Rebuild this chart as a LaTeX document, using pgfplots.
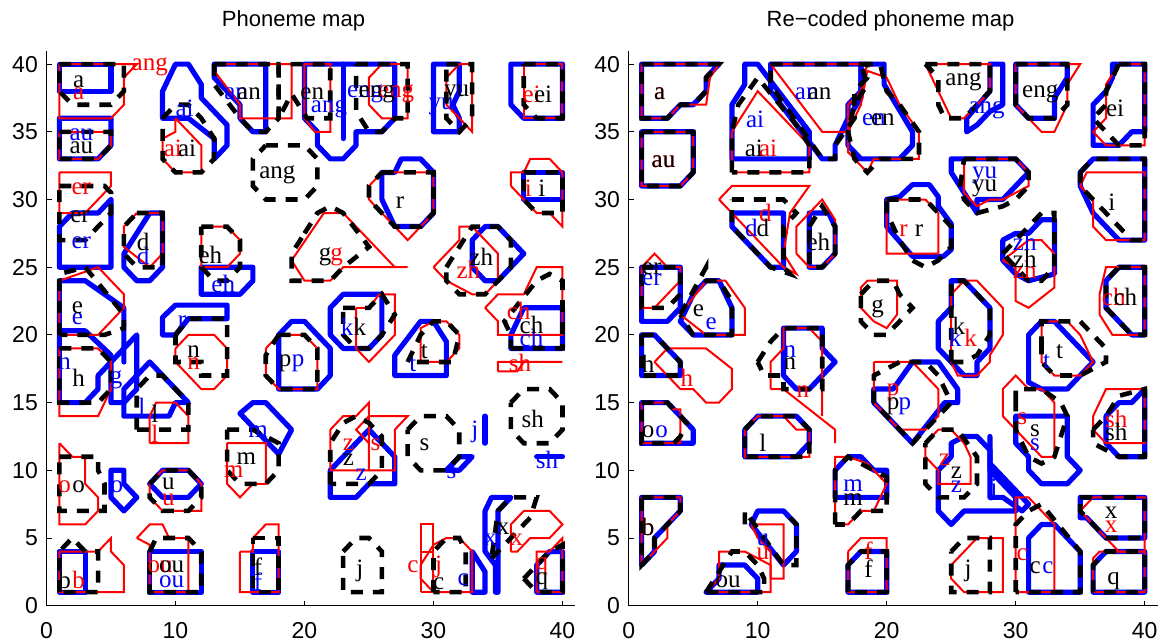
\documentclass[border=0pt]{standalone}
\usepackage{fontspec}
\setmainfont{Liberation Sans}
\newfontfamily\lser{Liberation Serif}
\usepackage{pgfplots}
\pgfplotsset{compat=1.18}
\pgfplotsset{
  Bst/.style={blue, line width=2.6pt, line join=round, line cap=round, mark=none},
  Rst/.style={red, line width=1pt, line join=miter, mark=none},
  Kst/.style={black, line width=2.3pt, dash pattern=on 6pt off 5pt, mark=none},
  pm/.style={width=264.45pt, height=277.57pt, scale only axis,
    xmin=0, xmax=41, ymin=0, ymax=41,
    axis x line=bottom, axis y line=left, axis line style={-, line width=0.6pt},
    tick align=inside, major tick length=2.5pt, tick style={black, line width=0.5pt},
    xtick={0,10,...,40}, ytick={0,5,...,40},
    ticklabel style={font=\fontsize{11.5}{12}\selectfont},
    xticklabel style={yshift=-5pt}, yticklabel style={xshift=-0.8pt},
    /pgf/number format/assume math mode=true,
    clip=false, anchor=south west}
}
\newcommand{\B}[1]{\addplot[Bst] coordinates {#1};}
\newcommand{\R}[1]{\addplot[Rst] coordinates {#1};}
\newcommand{\K}[1]{\addplot[Kst] coordinates {#1};}
\newcommand{\T}[4]{\node[text=#1, font=\lser\fontsize{12.5}{13}\selectfont, inner sep=0pt] at (axis cs:#2,#3) {#4};}
\begin{document}
\begin{tikzpicture}
\useasboundingbox (0,0) rectangle (581pt,321.5pt);
\node[font=\fontsize{11}{13}\selectfont, anchor=base] at (146.75pt,308pt) {Phoneme map};
\node[font=\fontsize{11}{13}\selectfont, anchor=base] at (445.25pt,308pt) {Re−coded phoneme map};
% ================= LEFT =================
\begin{axis}[pm, at={(23.25pt,18.65pt)}]
\B{(1,38) (5,38) (5,40) (1,40) (1,38)}
\B{(1,36) (5,36) (5,34) (4,33) (1,33) (1,36)}
\B{(5,30) (5,25) (1,25) (1,28) (2,29) (4,29) (5,30)}
\B{(6,26) (8,29) (9,29) (9,25) (8,24) (7,24) (6,25) (6,26)}
\B{(9,36) (9,38) (10,40) (11,40) (12,38.5) (12,37.5) (14,35.5) (14,34) (13,33) (13,34.5) (11,36) (9,36)}
\B{(13,40) (17,40) (17,35) (16,35) (15,36) (15,37) (13,39) (13,40)}
\B{(20,40) (27,40) (27,36) (26,35) (24,35) (24,34) (23,33) (22,33) (21,34) (21,35) (20,36) (20,40)}
\B{(23,40) (23,34.5)}
\B{(30,40) (32,40) (32,38) (31.5,37) (32,36) (32,35) (30,35) (30,40)}
\B{(36,40) (40,40) (40,36) (37,36) (36,37) (36,40)}
\B{(37,32) (40,32) (40,30) (37,30) (37,32)}
\B{(26,30) (26,32) (27,32) (27.5,33) (29,33) (30,32) (30,29) (29,28) (27,28) (26,30)}
\B{(12,25) (16,25) (16,24) (15,23) (12,23) (12,25)}
\B{(1,20.3) (1,24) (3,24) (6,22) (6,18)}
\B{(1,20.3) (3,20.3) (5,18.5) (5,18) (4,17) (4,16) (3,15) (1,15) (1,20.3)}
\B{(9,20) (9,21.3) (10,22.2) (14,22.2) (14,21.2) (11,21.2) (10,20) (9,20)}
\B{(22,22) (23,23) (26,23) (26,20) (25,19) (23,19) (22,20) (22,22)}
\B{(33,27) (34,28) (35,28) (37,26) (35,24) (34,24) (33,25) (33,27)}
\B{(36.5,21) (37,22) (40,22) (40,19) (36,19) (36,20) (36.5,21)}
\B{(5,15) (5,18) (7,20) (7,16) (6,15) (5,15)}
\B{(6,14) (6,16) (8,18) (11,15) (10,15) (9.5,14) (6,14)}
\B{(18,16) (18,20) (19,21) (20,21) (22,19) (22,17) (21,16) (18,16)}
\B{(27,17) (27,18.5) (29,21) (30,21) (31,19.5) (31,17) (27,17)}
\B{(38,11) (40,11)}
\B{(31,10) (32,11) (33,11) (32,10) (31,10)}
\B{(34,14) (34,12)}
\B{(22,8) (24,8) (25,9) (27,9) (27,11) (25,13) (24,12) (22,10) (22,8)}
\B{(15,14.2) (16,15) (17,15) (19,13) (18,11.2) (15,14.2)}
\B{(5,10) (6,10) (6,9) (7,8) (6,7) (5,8) (5,10)}
\B{(8,9) (9,10) (11,10) (12,9) (11,8) (9,8) (8,9)}
\B{(1,4) (3,4) (3,1) (1,1) (1,4)}
\B{(8,4) (12,4) (12,1) (8,1) (8,4)}
\B{(16,4) (18,4) (18,1) (16,1) (16,4)}
\B{(33,1) (33,4) (34,2.5) (34,1) (33,1)}
\B{(34,4) (34,7) (34.5,8) (36,8) (35,7) (35,1) (34.8,1) (34.8,3) (34,4)}
\B{(38,3) (39,4) (40,4) (40,1) (38,1) (38,3)}
% red
\R{(1,40) (7,40) (6,39) (6,37) (5,36) (1,36) (1,40)}
\R{(1,35) (5,35) (5,34) (4,33) (1,33) (1,35)}
\R{(1,32) (5,32) (5,31) (3,29) (1,29) (1,32)}
\R{(7,29) (9,29) (9,26) (8,25) (6,26.5) (6,28) (7,29)}
\R{(10,36) (11,35) (12,34) (12,32) (10,32) (9,33) (9,34.5) (10,35) (10,36)}
\R{(13,40) (19,40) (19,36) (15,36) (15,37) (13,39.5) (13,40)}
\R{(20,40) (22,40) (22,35) (20.8,35) (20,36) (20,40)}
\R{(26,40) (28,40) (28,36) (26,36) (25,37) (25,39) (26,40)}
\R{(31,39) (32,40) (33,40) (33,35) (31,37) (31,39)}
\R{(37,40) (40,40) (40,36) (37,36) (37,40)}
\R{(36,31) (36,32) (37,32) (37.5,33) (39,33) (40,32) (40,28) (39,29) (38,29) (36,31)}
\R{(26,32) (30,32) (30,29) (28,27) (25,30) (25,31) (26,32)}
\R{(19,25.5) (21.5,29) (23,29) (27,25) (28,25) (23,25) (22,24) (20,24) (19,25.5)}
\R{(12,28) (14,28) (15,27) (15,26) (14,25) (12,25) (12,28)}
\R{(1,20) (1,24) (4,25) (6,23) (6,22) (4,20) (1,20)}
\R{(10,19) (11,20) (13,20) (14,19) (14,17) (13,16) (12,16) (10,18) (10,19)}
\R{(24,22) (25,22) (25.8,23) (27,23) (27,20) (25,18) (24,19) (24,22)}
\R{(34,22) (35,23) (37,23) (38,25) (40,25) (40,20) (35,20) (35,21) (34,22)}
\R{(1,19) (4,19) (5,18) (5,16) (4,14) (1,14) (1,19)}
\R{(8,12) (8,14) (8.5,15) (10,15) (11,14) (11,12) (8,12)}
\R{(17,19) (18,20) (20,20) (21,19) (21,16) (18,16) (17,17) (17,19)}
\R{(29,18) (29,20.5) (30,21) (31,21) (32,20) (32,19) (31,18) (29,18)}
\R{(35,17.3) (35,18) (40,18) (37,18) (36.5,17.3) (35,17.3)}
\R{(22,10) (22,13) (23,14) (24,14) (25,15) (25,10) (22,10)}
\R{(25,10) (27,10) (27,13) (28,14) (25,14) (24,13) (25,12)}
\R{(14,12) (17,12) (17,9) (16,9) (15,8) (14,9) (14,12)}
\R{(1,12) (2,11) (3,11) (3,9) (4,8) (4,7) (3,6) (1,6) (1,12)}
\R{(8,9) (9,10) (11,10) (12,9) (12,7) (9,7) (8,8) (8,9)}
\R{(1,4) (4,4) (5,5) (5,4) (6,3) (6,1) (1,1) (1,4)}
\R{(7,5) (8,6) (9,6) (9.5,5) (11,5) (11,1) (8,1) (8,4.5) (7,5)}
\R{(15,4) (16,4) (16,5) (17,6) (18,6) (18,1) (15,1) (15,4)}
\R{(29,1) (29,4) (30,4) (29,4) (29,6) (30,6) (30,1) (29,1)}
\R{(29,3) (30,4.5) (31,5) (32,5) (33,4) (33,1) (30,1) (29,2) (29,3)}
\R{(36,4) (36.5,4) (37.5,5) (39,5) (40,6) (39,7) (37,7) (36,6) (36,4)}
\R{(38,1) (38,4) (39,4) (40,5) (40,1) (38,1)}
\R{(30,25) (32,27) (32,28) (33,28) (35,26) (35,24) (34,23) (33,23) (31,24) (30,25)}
% black
\K{(1,40) (6,40) (6,38) (5,37) (2,37) (1,38) (1,40)}
\K{(1,35) (5,35) (5,34) (4,33) (1,33) (1,35)}
\K{(1,31) (4.5,31) (5,30.5) (5,29) (3,27) (1,27) (1,31)}
\K{(7,29) (9,29) (9,25) (7,25) (6,26) (6,28) (7,29)}
\K{(9,36) (10,37) (11,37) (12,36) (13,34.5) (13,33) (12,32) (10,32) (9,33) (9,36)}
\K{(13,40) (18,40) (18,36) (17,35) (16,35) (15,36) (13,38.5) (13,40)}
\K{(18,36) (18,40) (22,40) (22,36) (20.2,36) (19,37.8) (18,36)}
\K{(24,40) (28,40) (28,36) (27,36) (26,35) (25,35) (24,36.5) (24,40)}
\K{(31,40) (33,40) (33,36) (32,35) (31,36) (31,40)}
\K{(37,40) (40,40) (40,36) (38,36) (37,37) (37,40)}
\K{(37,32) (40,32) (40,29) (38,29) (37,30) (37,32)}
\K{(17,34) (20,34) (21,33) (21,31) (20,30) (17,30) (16,31) (16,33) (17,34)}
\K{(26,32) (30,32) (30,29) (29,28) (27,28) (25,30) (25,31) (26,32)}
\K{(20,27.5) (21,29) (22,29.5) (23,29) (25,26.5) (23,25) (22,24) (19,24) (19,26) (20,27.5)}
\K{(12,28) (14,28) (15,27) (15,25) (14,24) (13,24) (12,25) (12,28)}
\K{(1,20) (1,24.5) (3,25) (6,21.5) (6,20.5) (4.5,20) (1,20)}
\K{(10,20) (11,21.2) (14,21.2) (14,17) (12,17) (12,18) (10,18) (10,20)}
\K{(23,22) (25,22) (26,23) (27,21.5) (26,20) (25,19) (24,19) (23,20) (23,22)}
\K{(36,19) (40,19) (40,24) (39,24.5) (38,24) (35.5,21) (36,20) (36,19)}
\K{(31,25) (33,28) (35,28) (36,27) (36,25) (34,23) (32,23) (31,24) (31,25)}
\K{(1,19) (4,19) (5,18) (5,16) (4,15) (1,15) (1,19)}
\K{(7,13) (7,16) (8,17) (9,17) (11,15) (11,13) (7,13)}
\K{(18,20) (20,20) (21,19) (21,16) (18,16) (17,17) (17,18.5) (18,20)}
\K{(28,18) (29,20) (30,21) (31,21) (32,20) (31.5,18) (28,18)}
\K{(36,15) (37,16) (39,16) (40,15) (40,13) (39,12) (37,12) (36,13) (36,15)}
\K{(28,13) (29,14) (31,14) (32,13) (32,11) (31,10) (29,10) (28,11) (28,13)}
\K{(22,9) (22,12) (23,13.5) (24,14) (25,13.5) (26,12.5) (26,10) (25,9) (22,9)}
\K{(14,13) (16,13) (18,12) (18,10) (17,9) (15,9) (14,10) (14,13)}
\K{(1,11) (4,11) (4,10) (4.5,9) (4.5,7) (1,7) (1,11)}
\K{(8,9) (9,10) (11,10) (12,9) (12,8) (11,7) (9,7) (8,8) (8,9)}
\K{(1,1) (1,4) (2,5) (3,4) (4,4) (4,1) (1,1)}
\K{(8,4) (8.5,5) (11,5) (12,4) (12,1) (8,1) (8,4)}
\K{(16,5) (18,5) (18,1) (16,1) (16,5)}
\K{(23,4) (24,5) (25,5) (26,4) (26,1) (23,1) (23,4)}
\K{(30,1) (30,4) (31,5) (32,5) (32.5,4) (32.5,1) (30,1)}
\K{(34.5,3.5) (37.5,6.5) (38,8) (36,8) (35,7) (34.5,3.5)}
\K{(37,2) (38,3) (39,4) (40,4.5) (40,1) (38,1) (37,2)}
% labels red
\T{red}{2.5}{37.8}{a}
\T{red}{8.0}{39.8}{ang}
\T{red}{2.7}{30.8}{er}
\T{red}{9.8}{33.8}{ai}
\T{red}{27.1}{37.8}{eng}
\T{red}{37.6}{37.8}{ei}
\T{red}{37.35}{30.8}{i}
\T{red}{22.5}{25.8}{g}
\T{red}{32.7}{24.8}{zh}
\T{red}{36.6}{21.8}{ch}
\T{red}{8.4}{12.7}{l}
\T{red}{11.4}{17.9}{n}
\T{red}{36.7}{17.9}{sh}
\T{red}{14.5}{9.9}{m}
\T{red}{1.4}{8.8}{o}
\T{red}{9.45}{7.8}{u}
\T{red}{2.5}{1.9}{b}
\T{red}{8.8}{2.9}{ou}
\T{red}{23.4}{11.9}{z}
\T{red}{25.5}{11.9}{s}
\T{red}{28.4}{2.9}{c}
\T{red}{30.4}{2.9}{j}
\T{red}{36.45}{4.85}{x}
\T{red}{38.4}{2.9}{q}
% labels blue
\T{blue}{2.7}{34.8}{au}
\T{blue}{2.7}{26.8}{er}
\T{blue}{7.5}{25.8}{d}
\T{blue}{10.7}{36.7}{ai}
\T{blue}{14.7}{37.8}{an}
\T{blue}{21.9}{36.7}{ang}
\T{blue}{24.7}{37.8}{eng}
\T{blue}{30.6}{36.9}{yu}
\T{blue}{13.7}{23.8}{eh}
\T{blue}{2.4}{21.2}{e}
\T{blue}{10.5}{21.0}{r}
\T{blue}{23.3}{20.6}{k}
\T{blue}{1.4}{17.9}{n}
\T{blue}{5.4}{16.7}{g}
\T{blue}{7.4}{14.7}{l}
\T{blue}{19.5}{17.9}{p}
\T{blue}{28.4}{17.8}{t}
\T{blue}{37.6}{19.8}{ch}
\T{blue}{16.4}{12.85}{m}
\T{blue}{5.45}{8.8}{o}
\T{blue}{9.7}{1.8}{ou}
\T{blue}{16.4}{1.8}{f}
\T{blue}{38.8}{10.8}{sh}
\T{blue}{31.4}{9.8}{s}
\T{blue}{33.2}{12.85}{j}
\T{blue}{24.4}{9.65}{z}
\T{blue}{32.3}{1.9}{c}
\T{blue}{34.4}{4.85}{x}
% labels black
\T{black}{2.5}{38.7}{a}
\T{black}{2.7}{33.8}{au}
\T{black}{2.6}{28.7}{er}
\T{black}{7.5}{26.9}{d}
\T{black}{10.9}{33.8}{ai}
\T{black}{15.7}{37.8}{an}
\T{black}{20.6}{37.8}{en}
\T{black}{25.6}{37.8}{eng}
\T{black}{31.8}{37.8}{yu}
\T{black}{38.5}{37.8}{ei}
\T{black}{38.4}{30.8}{i}
\T{black}{17.9}{31.8}{ang}
\T{black}{27.4}{29.8}{r}
\T{black}{21.6}{25.8}{g}
\T{black}{12.7}{25.9}{eh}
\T{black}{33.7}{25.8}{zh}
\T{black}{37.6}{20.7}{ch}
\T{black}{2.4}{22.0}{e}
\T{black}{24.3}{20.6}{k}
\T{black}{2.5}{16.8}{h}
\T{black}{8.4}{14.2}{l}
\T{black}{11.4}{18.8}{n}
\T{black}{18.5}{17.9}{p}
\T{black}{29.3}{18.8}{t}
\T{black}{37.7}{13.8}{sh}
\T{black}{29.3}{11.9}{s}
\T{black}{23.4}{10.8}{z}
\T{black}{15.5}{10.9}{m}
\T{black}{2.5}{8.8}{o}
\T{black}{9.45}{9.0}{u}
\T{black}{1.4}{1.9}{b}
\T{black}{9.7}{2.9}{ou}
\T{black}{16.4}{2.9}{f}
\T{black}{24.3}{2.6}{j}
\T{black}{30.4}{1.65}{c}
\T{black}{35.4}{5.7}{x}
\T{black}{38.4}{1.8}{q}
\end{axis}
% ================= RIGHT =================
\begin{axis}[pm, at={(314.35pt,18.65pt)}]
\B{(1,40) (7,40) (6,39) (6,38) (5,37) (4,37) (3,36) (1,36) (1,40)}
\B{(1,35) (5,35) (5,32) (4,31) (1,31) (1,35)}
\B{(8,33) (8,37) (9,38.5) (9,40) (10,40) (14,35) (14,33) (8,33)}
\B{(11,40) (18,40) (18,38) (17,37) (17,36) (16,34) (16,33) (15,33) (11,38) (11,40)}
\B{(18,40) (19.8,40) (19.8,38.5) (22,35) (22,34) (21,33) (18,33) (17,34) (17,36) (18,37.5) (18,40)}
\B{(28,40) (29,40) (29,37) (28,36.5) (27,35.5) (26.2,35) (26.2,36) (28,38) (28,40)}
\B{(30,40) (34,40) (34,39) (33,37.5) (33,36) (31,36) (30,37) (30,40)}
\B{(37.5,40) (40,40) (40,35) (39,35) (38,34) (36,34) (36,37) (37,38) (37.5,39) (37.5,40)}
\B{(25,33) (30,33) (31,32) (29,30) (27,30) (27,29) (26,30.5) (25,32) (25,33)}
\B{(35,31) (35,32) (36,33) (40,33) (40,27) (38,27) (36,29) (35,31)}
\B{(20,28) (20,30) (21,30.2) (22,31.1) (23.3,31.1) (24,30.2) (24,29.5) (25,28.2) (25,26.3) (24.4,25.8) (22,25.8) (20,28)}
\B{(29,25.5) (29,27) (30,27.5) (31,27.5) (32,28.5) (33,28.5) (33,24.5) (31,24) (30,24.5) (29,25.5)}
\B{(37,24) (38,25) (40,25) (40,20) (39,20) (37,22) (37,24)}
\B{(24,19) (24,21) (25,22) (25,24) (26,24) (28,22) (28,19) (27,18) (27,17) (26,17) (25,18) (24,19)}
\B{(31,16.5) (31,20) (32,21) (33,21) (36,18) (35,17) (34,16) (32,16) (31,16.5)}
\B{(19,16) (20.5,16) (22,18) (24,18) (25.5,16) (25.5,15) (24.5,15) (22,12) (20,14) (19,15) (19,16)}
\B{(24,7) (24,10) (25,11) (25,12) (26,12.5) (27,12.5) (28,11.5) (28,10) (30,8) (30,7) (26,7) (25,6) (24,7)}
\B{(28,12.5) (28,10.5) (31,7.5) (30.5,7) (29,8) (28,8) (28,10.5)}
\B{(30,12) (30,14) (34,14) (34,11) (35,10) (34,9) (32,9) (31,10) (31,11) (30,12)}
\B{(37,14) (38,15) (39,15) (40,16) (40,11) (38,11) (37,12) (37,14)}
\B{(35,8) (40,8) (40,5) (37,5) (35.5,6.5) (35,6.5) (35,8)}
\B{(36,1) (36,3) (37,4) (40,4) (40,1) (36,1)}
\B{(31,1) (31,5) (32,6) (33,6) (35,4) (35,1) (31,1)}
\B{(17,1) (17,3) (18,4) (20,4) (20,1) (17,1)}
\B{(1,20) (2,20) (4,18) (4,17) (1,17) (1,20)}
\B{(1,15) (3,15) (5,13) (5,12) (1,12) (1,15)}
\B{(9,13) (10,14) (13,14) (14,13) (14,12) (13,11) (9,11) (9,13)}
\B{(12,17) (12,20.5) (15,20.5) (15,19) (16,18) (15,17) (14,16) (13,16) (12,17)}
\B{(16,9) (16,10) (17,11) (18,11) (19,10) (20,10) (20,8) (16,8) (16,9)}
\B{(1,8) (4,8) (4,7) (2,5) (2,4) (1,3) (1,8)}
\B{(9.5,6) (10,7) (12,7) (13,6) (13,4) (12,3) (9.5,6)}
\B{(6,1) (7,2) (7,3) (9,3) (10,2) (10,1) (6,1)}
\B{(4,21) (5,23) (6,24) (7,24) (8,22) (8,20) (5,20) (4,21)}
\B{(1,25) (4,25) (4,22) (3,21) (1,21) (1,25)}
\B{(8,29) (12,29) (12,25) (11,25) (8,28) (8,29)}
\B{(14,29) (15.5,29) (16,28) (16,26) (15,25) (14,25) (14,29)}
% red
\R{(1,40) (7,40) (6.3,39) (6,37) (4,37) (3,36) (1,36) (1,40)}
\R{(1,35) (5,35) (5,32) (4,31) (1,31) (1,35)}
\R{(8,32) (8,35) (10,38) (13,35) (14,34) (14,32) (8,32)}
\R{(11,40) (18.5,40) (18,38) (17,37) (17,35) (15,35) (11,40)}
\R{(18.5,39.5) (20,39) (21,37) (22.5,35) (22.5,33) (19,33) (18.5,32) (17,33.5) (17,35) (18,37) (18.5,39.5)}
\R{(23,40) (28,40) (28,38) (26,36) (25,36) (24.5,37) (24,38) (23,40)}
\R{(30,40) (35,40) (34,38.5) (34,37) (33,35) (32,35) (31,36) (30,37) (30,40)}
\R{(38,40) (40,40) (40,34) (37,34) (36,35) (37,36) (37,38.5) (38,40)}
\R{(26,33) (30,33) (31,32) (31,31) (29,30) (28,30) (27,29.5) (26,30.5) (26,33)}
\R{(35,31) (35.5,32) (40,32) (40,27) (37,27) (36,28) (36,30) (35,31)}
\R{(20,30) (23,30) (24,29) (24,26) (20,26) (20,30)}
\R{(29,25.5) (31,27) (32,27) (33,26) (33,23.5) (31,22) (30,22.5) (30,25) (29,25.5)}
\R{(36.5,23) (37,25) (40,25) (40,20) (37.5,20) (36.5,21.5) (36.5,23)}
\R{(18.5,24) (20.8,24) (20.8,21.5) (20,20.5) (19,21) (18,22) (18,23.5) (18.5,24)}
\R{(25,23) (26,24) (27,24) (29,22) (29,20) (28,18.5) (28,18) (27,17) (25.5,17) (25,18) (25,23)}
\R{(32,19) (32,21) (34,21) (35,20) (36,18) (35,17) (33,17) (32,18) (32,19)}
\R{(19,18) (22,18) (24,16) (24,14) (23,13) (21,13) (19,15) (19,18)}
\R{(23,11) (23,12) (24,13) (25,13) (26,12) (26.5,11) (26.5,9) (24,9) (24,10) (23,11)}
\R{(29,14) (29,16) (30,17) (31,16) (32,16) (33,15) (33,11) (32,11) (30,13) (29,14)}
\R{(36,14) (37,16) (40,16) (40,12) (37,12) (36,13) (36,14)}
\R{(35,7) (36,8) (40,8) (40,4) (38,4) (37,5) (35,7)}
\R{(36,1) (36,3.5) (36.5,4) (40,4) (40,1) (36,1)}
\R{(30,1) (30,8) (31,8) (32,7) (33,6) (33,1) (30,1)}
\R{(25,3) (27,5) (29,5) (29,1) (26,1) (25,2) (25,3)}
\R{(17,4) (18,5) (20,5) (20,1) (17,1) (17,4)}
\R{(2,18) (3,19) (6,19) (8,17.5) (8,16) (7,15) (6,15) (5,16) (4,16) (2,18)}
\R{(1,15) (3,15) (3.5,14.5) (4,14.5) (4,12) (1,12) (1,15)}
\R{(9,13) (10,14) (12,14) (13,13) (14,13) (14,11) (9,11) (9,13)}
\R{(11,16) (11,18) (12,19) (12,20.5) (14,20.5) (15,19.5) (15,14)}
\R{(11,16) (12,16) (16,13) (16,12)}
\R{(16,6) (16,11) (17,11) (18.5,10.5) (20,9) (19,7) (18,7) (17,6) (16,6)}
\R{(1,8) (4,8) (4,7) (3,6) (3,5) (2,4) (1,3) (1,8)}
\R{(9.5,6) (12,6) (12,2) (11,2) (11,4) (10,5) (9.5,6)}
\R{(6,1) (7,2) (7,4) (9,4) (11,3) (11,1) (6,1)}
\R{(4,21.5) (6,24) (7.5,24) (9,22) (9,20) (6,20) (4,21.5)}
\R{(1,25) (2,26) (3,25) (4,25) (4,24) (2,22) (1,22) (1,25)}
\R{(7,30) (8,31) (14,31) (12.5,29) (12,26) (13,24.5) (12,25) (11,26) (9,28) (8,29) (7,30)}
\R{(13,26) (13,28) (14,29) (15,30) (16,28.5) (16,26) (15,25) (14,25) (13,26)}
% black
\K{(1,40) (7,40) (6,39) (6,38) (5,37) (4,37) (3,36) (1,36) (1,40)}
\K{(1,35) (5,35) (5,32) (4,31) (1,31) (1,35)}
\K{(8,32) (8,35) (8.5,37) (10,39) (13,35.5) (14,34) (14,32) (8,32)}
\K{(11,40) (18.5,40) (18.5,39) (17.5,38) (17.5,36) (16,34) (16,33) (15,33) (11,38.5) (11,40)}
\K{(18,40) (19.5,40) (20,38) (21,37) (22.5,35) (22.5,33) (19.5,33) (18.5,32) (17.5,33) (17,35) (17.5,37) (18.5,38.5) (18,40)}
\K{(23,40) (28,40) (28,38) (26.5,36.5) (26,36) (24.5,36) (24,37) (24,39) (23,40)}
\K{(30,40) (34,40) (34,37) (33,36) (31,36) (30,37) (30,40)}
\K{(38,40) (40,40) (40,34) (38,34) (37,35) (36,36) (37,37) (37,38) (38,40)}
\K{(26,33) (30,33) (31,32) (31,31) (30,30) (29,29.5) (27,29) (26,30) (25.7,31) (26,33)}
\K{(35,32) (36,33) (40,33) (40,27) (39,27) (37,29) (35,31) (35,32)}
\K{(20,30) (23,30) (24,29) (25,28) (25,26.5) (24,25.5) (23,25) (22,25.5) (21,27) (20,29) (20,30)}
\K{(29,26) (31,28) (32,29) (33,29) (33,25) (32,24) (31,24) (30,25) (29,26)}
\K{(38,25) (40,25) (40,20) (39,20) (37,22) (37,24) (38,25)}
\K{(18,23) (19,24) (20.5,24) (21,23) (22,22) (21,21) (20,20) (19,20) (18,21) (18,23)}
\K{(25,18) (25,24) (26,24) (28,22) (28,20) (27,18.5) (26,18) (25,18)}
\K{(32,19) (32,21) (35,21) (36,20) (37,19) (37,18) (35,17) (33,17) (32,18) (32,19)}
\K{(19,15) (19,17) (20,17.5) (21,18) (23,18) (24,17) (25,15) (24,14) (22,12) (21,13) (19,15)}
\K{(23,12) (24,13) (25.5,13) (27,11) (27,9) (26,8) (24,8) (23,9) (23,12)}
\K{(30,15) (30,16) (32,16) (33.5,15) (34,14) (33,11) (32,10.5) (31,11) (30,13) (30,15)}
\K{(36,13) (37,14) (38,15.5) (40,16) (40,11) (38,11) (36,12) (36,13)}
\K{(35,8) (40,8) (40,5) (37,5) (35,7) (35,8)}
\K{(36,1) (36,3) (37,4) (40,4) (40,1) (36,1)}
\K{(30,1) (30,6) (31,7) (32,7.5) (35,4) (35,1) (30,1)}
\K{(25,4) (26,5) (28,5) (28,1) (25,1) (25,4)}
\K{(17,1) (17,3) (18,4) (20,4) (20,1) (17,1)}
\K{(1,20) (2,20) (4,18) (4,17) (1,17) (1,20)}
\K{(1,15) (3,15) (4.5,13.5) (4,12.5) (3.5,12) (1,12) (1,15)}
\K{(9,13) (10,14) (13,14) (14,13) (14,11) (9,11) (9,13)}
\K{(10,18) (11,19.5) (12,20.5) (15,20.5) (15,16) (12,16) (12,17) (10.5,17) (10,18)}
\K{(16,6) (16,10) (17,11) (18,10.5) (19,10) (20,9.5) (20,7) (18,7) (17,6) (16,6)}
\K{(1,8) (4,8) (4,7) (2,5) (2,4) (1,3) (1,8)}
\K{(9,6) (9,7) (12,3) (13,3) (13,6) (12.5,6.5)}
\K{(6,1) (8,4) (9,4) (10,3) (10.5,2) (10.5,1) (6,1)}
\K{(4,21.5) (6,25) (6,24) (7,24) (8,22.5) (8,20) (5,20) (4,21.5)}
\K{(1,25) (4,25) (4,23) (3,22) (1,22) (1,25)}
\K{(8,30) (12,30) (13,29) (12,28) (12,25) (12.5,24.5) (11,25) (10,26) (8,28) (8,30)}
\K{(14,28) (15,29.5) (16,28) (16,26) (15,25) (14,25) (14,28)}
% labels red
\T{red}{2.4}{37.8}{a}
\T{red}{2.7}{32.8}{au}
\T{red}{10.8}{33.8}{ai}
\T{red}{10.6}{29.0}{d}
\T{red}{21.3}{27.7}{r}
\T{red}{30.7}{24.8}{zh}
\T{red}{37.6}{22.8}{ch}
\T{red}{26.5}{19.8}{k}
\T{red}{4.5}{16.8}{h}
\T{red}{13.5}{15.8}{n}
\T{red}{20.5}{15.8}{p}
\T{red}{30.5}{13.8}{s}
\T{red}{37.8}{13.8}{sh}
\T{red}{24.5}{10.8}{z}
\T{red}{37.4}{5.8}{x}
\T{red}{1.5}{5.8}{b}
\T{red}{10.4}{3.85}{u}
\T{red}{30.5}{3.75}{c}
\T{red}{18.6}{4.05}{f}
% labels blue
\T{blue}{9.8}{35.9}{ai}
\T{blue}{13.8}{37.8}{an}
\T{blue}{19.0}{35.9}{en}
\T{blue}{27.75}{36.6}{ang}
\T{blue}{27.6}{31.8}{yu}
\T{blue}{9.5}{27.9}{d}
\T{blue}{30.7}{26.9}{zh}
\T{blue}{1.8}{24.05}{er}
\T{blue}{6.4}{20.85}{e}
\T{blue}{25.3}{19.8}{k}
\T{blue}{12.5}{18.8}{n}
\T{blue}{32.4}{18.0}{t}
\T{blue}{21.4}{14.7}{p}
\T{blue}{2.55}{12.85}{o}
\T{blue}{31.5}{11.9}{s}
\T{blue}{25.4}{8.8}{z}
\T{blue}{28.3}{8.55}{j}
\T{blue}{17.4}{8.9}{m}
\T{blue}{10.4}{4.85}{u}
\T{blue}{32.5}{2.8}{c}
% labels black
\T{black}{2.4}{37.8}{a}
\T{black}{2.7}{32.8}{au}
\T{black}{9.7}{33.8}{ai}
\T{black}{14.8}{37.8}{an}
\T{black}{19.7}{35.9}{en}
\T{black}{25.95}{38.7}{ang}
\T{black}{31.9}{37.8}{eng}
\T{black}{37.7}{36.7}{ei}
\T{black}{27.6}{30.8}{yu}
\T{black}{37.45}{29.8}{i}
\T{black}{10.4}{27.9}{d}
\T{black}{14.7}{26.9}{eh}
\T{black}{22.5}{27.7}{r}
\T{black}{30.7}{25.65}{zh}
\T{black}{1.8}{24.9}{er}
\T{black}{5.4}{21.8}{e}
\T{black}{19.3}{21.9}{g}
\T{black}{38.5}{22.8}{ch}
\T{black}{25.6}{20.7}{k}
\T{black}{1.5}{17.9}{h}
\T{black}{12.5}{17.9}{n}
\T{black}{33.4}{18.8}{t}
\T{black}{20.5}{14.7}{p}
\T{black}{1.5}{12.85}{o}
\T{black}{10.4}{12.0}{l}
\T{black}{31.5}{12.9}{s}
\T{black}{37.8}{12.85}{sh}
\T{black}{25.4}{9.8}{z}
\T{black}{17.4}{7.8}{m}
\T{black}{37.4}{6.9}{x}
\T{black}{1.5}{5.8}{b}
\T{black}{31.5}{2.8}{c}
\T{black}{18.6}{2.7}{f}
\T{black}{26.3}{2.6}{j}
\T{black}{7.7}{1.8}{ou}
\T{black}{37.6}{1.8}{q}
\end{axis}
\end{tikzpicture}
\end{document}
